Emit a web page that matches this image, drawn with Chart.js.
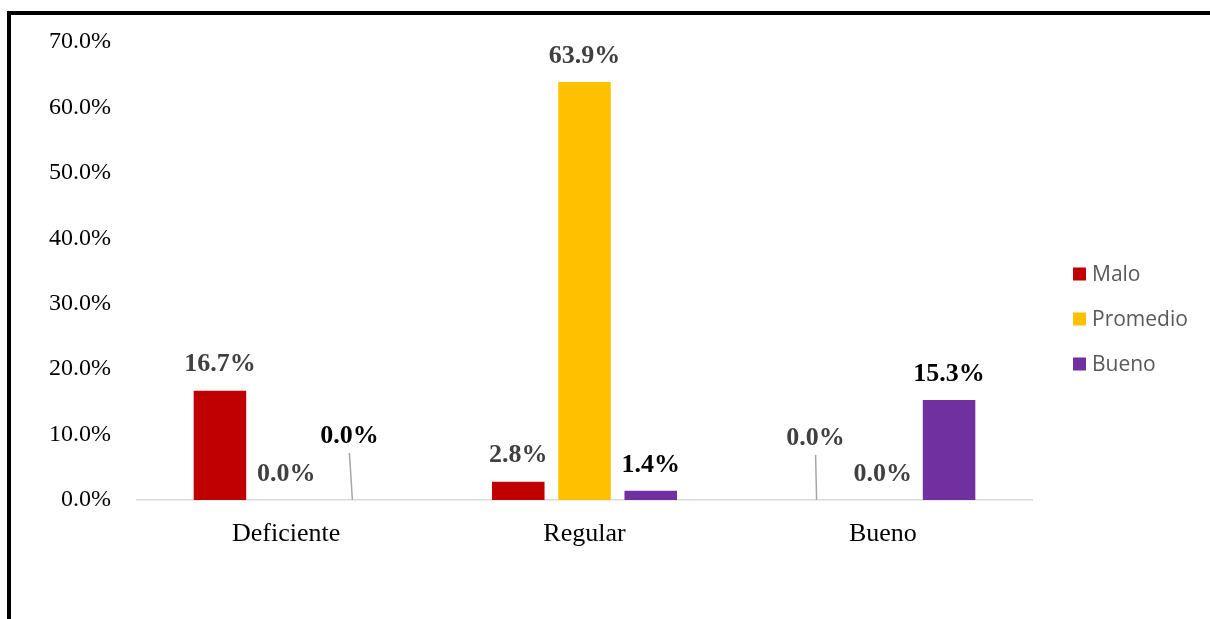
<html lang="es">
<head>
    <meta charset="UTF-8"></meta>
    <style>
        body {
            margin: 0;
            background-color: #fff;
        }

        .wrap {
            position: relative;
            width: 1210px;
            height: 619px;
            overflow: hidden;
        }

        .frame {
            position: absolute;
            left: 7px;
            top: 11px;
            width: 1220px;
            height: 640px;
            border-top: 4px solid #000;
            border-left: 4px solid #000;
        }

        canvas {
            position: absolute;
            left: 0;
            top: 0;
        }
    </style>
    <script src="https://cdn.jsdelivr.net/npm/chart.js"></script>
</head>
<body>
    <div class="wrap">
        <div class="frame"></div>
        <canvas id="grafico" width="1210" height="619"></canvas>
    </div>
    <script>
        // categorias y series (porcentajes)
        const categorias = ["Deficiente", "Regular", "Bueno"];
        const series = ["Malo", "Promedio", "Bueno"];
        const malo = [16.7, 2.8, 0.0];
        const promedio = [0.0, 63.9, 0.0];
        const bueno = [0.0, 1.4, 15.3];
        const ticksY = [0, 10, 20, 30, 40, 50, 60, 70];

        const colores = ["#c00000", "#ffc000", "#7030a0"];
        const coloresEtiqueta = ["#404040", "#404040", "#000000"];

        // etiquetas desplazadas a mano (serie, punto) -> [dx, dy]
        const desplazadas = {
            "2-0": [-3, -38],
            "0-2": [-1, -36]
        };

        const etiquetasPlugin = {
            id: "etiquetas",
            afterDatasetsDraw(chart) {
                const ctx = chart.ctx;
                const base = chart.scales.y.getPixelForValue(0);
                ctx.save();
                ctx.font = "bold 26px 'Liberation Serif', 'Times New Roman', serif";
                ctx.textAlign = "center";
                ctx.textBaseline = "middle";
                chart.data.datasets.forEach((ds, i) => {
                    const meta = chart.getDatasetMeta(i);
                    meta.data.forEach((bar, j) => {
                        const off = desplazadas[i + "-" + j] || [0, 0];
                        const x = bar.x + off[0];
                        const y = bar.y - 26 + off[1];
                        if (desplazadas[i + "-" + j]) {
                            ctx.strokeStyle = "#a6a6a6";
                            ctx.lineWidth = 1.5;
                            ctx.beginPath();
                            ctx.moveTo(x, y + 17);
                            ctx.lineTo(bar.x, base);
                            ctx.stroke();
                        }
                        ctx.fillStyle = coloresEtiqueta[i];
                        ctx.fillText(ds.data[j].toFixed(1) + "%", x, y);
                    });
                });
                ctx.restore();
            }
        };

        const leyendaPlugin = {
            id: "leyenda",
            afterDraw(chart) {
                const ctx = chart.ctx;
                ctx.save();
                ctx.font = "21px 'Open Sans', sans-serif";
                ctx.textBaseline = "middle";
                ctx.textAlign = "left";
                chart.data.datasets.forEach((ds, i) => {
                    const cy = 274 + i * 45;
                    ctx.fillStyle = ds.backgroundColor;
                    ctx.fillRect(1073, cy - 6.5, 13, 13);
                    ctx.fillStyle = "#595959";
                    ctx.fillText(ds.label, 1092, cy + 1);
                });
                ctx.restore();
            }
        };

        const valores = [malo, promedio, bueno];

        new Chart(document.getElementById("grafico"), {
            type: "bar",
            data: {
                labels: categorias,
                datasets: series.map((s, i) => ({
                    label: s,
                    data: valores[i],
                    backgroundColor: colores[i],
                    categoryPercentage: 0.666,
                    barPercentage: 0.793
                }))
            },
            options: {
                responsive: false,
                animation: false,
                layout: {
                    padding: { left: 0, right: 178, top: 42, bottom: 0 }
                },
                plugins: {
                    legend: { display: false },
                    tooltip: { enabled: false }
                },
                scales: {
                    x: {
                        grid: { display: false, drawTicks: false },
                        border: { display: true, color: "#d9d9d9", width: 1.5 },
                        ticks: {
                            color: "#000",
                            padding: 19,
                            font: { family: "'Liberation Serif', 'Times New Roman', serif", size: 26 }
                        },
                        afterFit(scale) { scale.height = 119; }
                    },
                    y: {
                        min: 0,
                        max: 70,
                        grid: { display: false, drawTicks: false },
                        border: { display: false },
                        afterBuildTicks(scale) {
                            scale.ticks = ticksY.map(v => ({ value: v }));
                        },
                        ticks: {
                            color: "#000",
                            padding: 26,
                            font: { family: "'Liberation Serif', 'Times New Roman', serif", size: 24 },
                            callback: v => v.toFixed(1) + "%"
                        },
                        afterFit(scale) { scale.width = 137; }
                    }
                }
            },
            plugins: [etiquetasPlugin, leyendaPlugin]
        });
    </script>
</body>
</html>
